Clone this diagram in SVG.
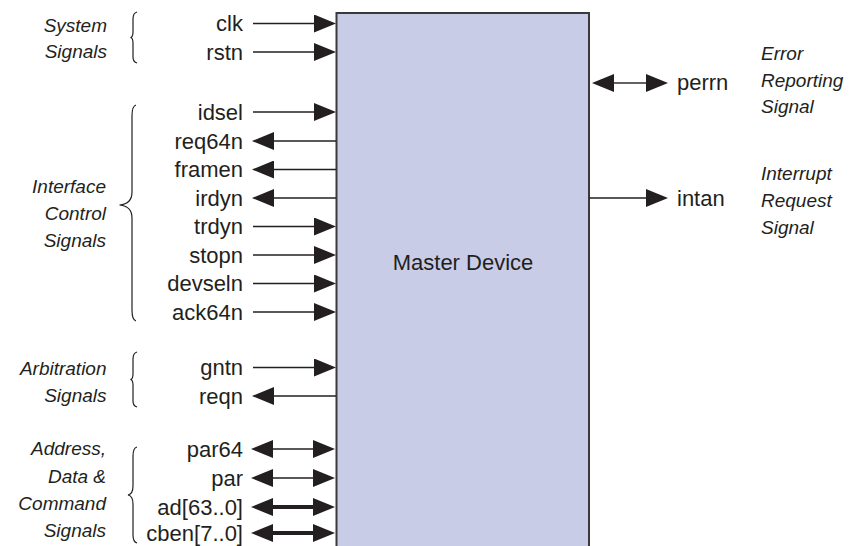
<svg xmlns="http://www.w3.org/2000/svg" width="853" height="546" viewBox="0 0 853 546">
  <defs>
    <marker id="ah" viewBox="0 0 22 18" refX="0" refY="9" markerWidth="22" markerHeight="18" markerUnits="userSpaceOnUse" orient="auto-start-reverse">
      <path d="M0,0 L22,9 L0,18 Z" fill="#231f20"/>
    </marker>
    <style>
      .sig { font-family: "Liberation Sans", Arial, sans-serif; font-size: 22px; fill: #231f20; }
      .grp { font-family: "Liberation Sans", Arial, sans-serif; font-size: 19px; font-style: italic; fill: #231f20; }
      .l { text-anchor: end; }
      .w { stroke: #231f20; stroke-width: 1.4; fill: none; }
      .bus { stroke-width: 4; }
      .in { marker-end: url(#ah); }
      .out { marker-end: url(#ah); }
      .bi { marker-start: url(#ah); marker-end: url(#ah); }
      .brace { stroke: #231f20; stroke-width: 1.2; fill: none; }
    </style>
  </defs>
  <rect width="853" height="546" fill="#ffffff"/>

  <g id="master-device">
    <rect x="336.5" y="13" width="252.5" height="545" fill="#c9cce6" stroke="#3a3a3a" stroke-width="2"/>
    <text class="sig" x="463" y="270" text-anchor="middle">Master Device</text>
  </g>

  <g id="connectors">
    <line class="w in" x1="253" y1="23.5" x2="314" y2="23.5"/>
    <line class="w in" x1="253" y1="52" x2="314" y2="52"/>
    <line class="w in" x1="253" y1="112" x2="314" y2="112"/>
    <line class="w out" x1="336" y1="141" x2="274" y2="141"/>
    <line class="w out" x1="336" y1="169.5" x2="274" y2="169.5"/>
    <line class="w out" x1="336" y1="198" x2="274" y2="198"/>
    <line class="w in" x1="253" y1="226.5" x2="314" y2="226.5"/>
    <line class="w in" x1="253" y1="255" x2="314" y2="255"/>
    <line class="w in" x1="253" y1="283.5" x2="314" y2="283.5"/>
    <line class="w in" x1="253" y1="312" x2="314" y2="312"/>
    <line class="w in" x1="253" y1="367.5" x2="314" y2="367.5"/>
    <line class="w out" x1="336" y1="396" x2="274" y2="396"/>
    <line class="w bi" x1="273" y1="449" x2="313" y2="449"/>
    <line class="w bi" x1="273" y1="478" x2="313" y2="478"/>
    <line class="w bus bi" x1="273" y1="507" x2="313" y2="507"/>
    <line class="w bus bi" x1="273" y1="533" x2="313" y2="533"/>
    <line class="w bi" x1="614" y1="83" x2="646" y2="83"/>
    <line class="w out" x1="589" y1="198" x2="646" y2="198"/>
  </g>

  <g id="signal-labels">
    <text class="sig l" x="243" y="31">clk</text>
    <text class="sig l" x="243" y="59.5">rstn</text>
    <text class="sig l" x="243" y="119.5">idsel</text>
    <text class="sig l" x="243" y="148.5">req64n</text>
    <text class="sig l" x="243" y="177">framen</text>
    <text class="sig l" x="243" y="205.5">irdyn</text>
    <text class="sig l" x="243" y="234">trdyn</text>
    <text class="sig l" x="243" y="262.5">stopn</text>
    <text class="sig l" x="243" y="291">devseln</text>
    <text class="sig l" x="243" y="319.5">ack64n</text>
    <text class="sig l" x="243" y="375">gntn</text>
    <text class="sig l" x="243" y="403.5">reqn</text>
    <text class="sig l" x="243" y="456.5">par64</text>
    <text class="sig l" x="243" y="485.5">par</text>
    <text class="sig l" x="243" y="514.5">ad[63..0]</text>
    <text class="sig l" x="243" y="540.5">cben[7..0]</text>
    <text class="sig" x="677" y="90">perrn</text>
    <text class="sig" x="677" y="205.5">intan</text>
  </g>

  <g id="group-system">
    <path class="brace" d="M137,12 Q133,13 133,19 L133,32 Q133,37 130.5,37.5 Q133,38 133,43 L133,57 Q133,62 137,63"/>
    <text class="grp l" x="107" y="32">System</text>
    <text class="grp l" x="107" y="57.5">Signals</text>
  </g>

  <g id="group-interface">
    <path class="brace" d="M136,105 Q132,106 132,116 L132,192 Q132,204 119.5,205 Q132,206 132,218 L132,310 Q132,320 136,321"/>
    <text class="grp l" x="106" y="193">Interface</text>
    <text class="grp l" x="106" y="220">Control</text>
    <text class="grp l" x="106" y="246.5">Signals</text>
  </g>

  <g id="group-arbitration">
    <path class="brace" d="M137,352 Q133,353 133,359 L133,374 Q133,379 130.5,379.5 Q133,380 133,385 L133,401 Q133,406 137,407"/>
    <text class="grp l" x="106.5" y="375">Arbitration</text>
    <text class="grp l" x="106.5" y="401.5">Signals</text>
  </g>

  <g id="group-address">
    <path class="brace" d="M137,447 Q133,448 133,456 L133,486 Q133,494 128,495 Q133,496 133,504 L133,535 Q133,542 137,543"/>
    <text class="grp l" x="106" y="455">Address,</text>
    <text class="grp l" x="106" y="483">Data &amp;</text>
    <text class="grp l" x="106" y="510">Command</text>
    <text class="grp l" x="106" y="537">Signals</text>
  </g>

  <g id="group-error">
    <text class="grp" x="761" y="60">Error</text>
    <text class="grp" x="761" y="87">Reporting</text>
    <text class="grp" x="761" y="113">Signal</text>
  </g>

  <g id="group-interrupt">
    <text class="grp" x="761" y="180">Interrupt</text>
    <text class="grp" x="761" y="207">Request</text>
    <text class="grp" x="761" y="234">Signal</text>
  </g>
</svg>
